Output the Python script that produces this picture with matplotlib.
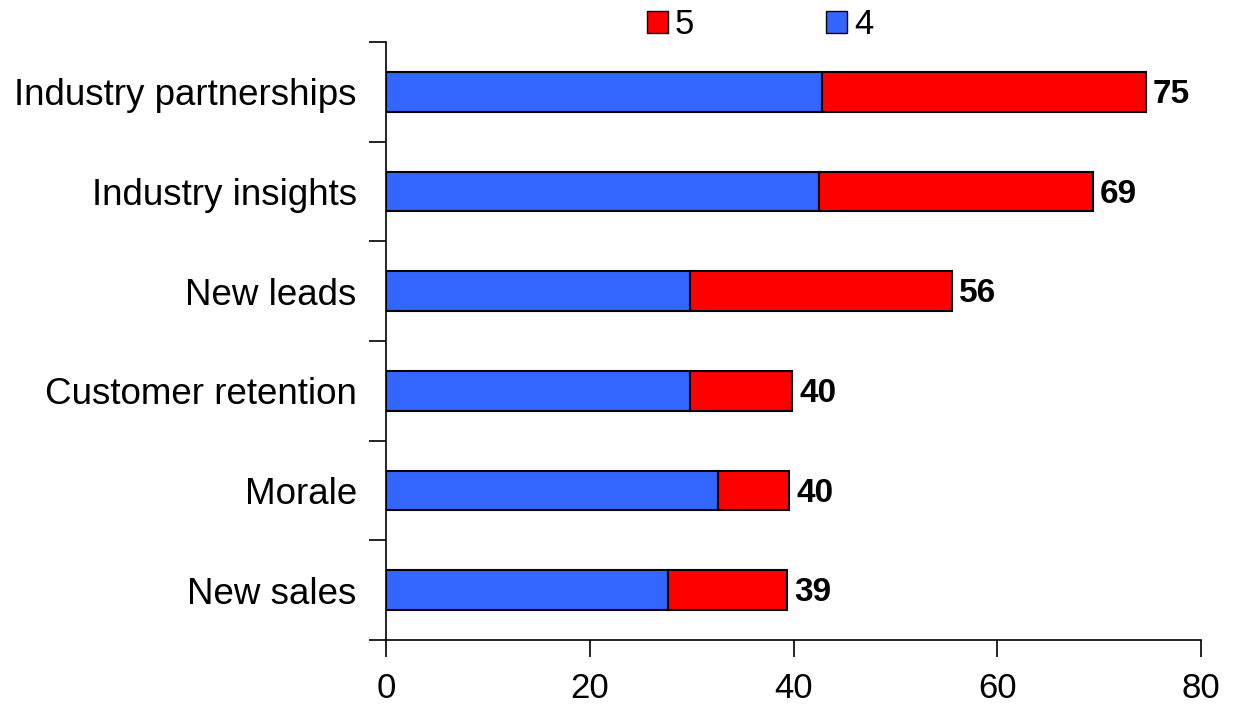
import matplotlib
matplotlib.use("Agg")
import matplotlib.pyplot as plt
from matplotlib.patches import Patch

plt.rcParams['font.family'] = ['Liberation Sans', 'DejaVu Sans']

categories = ["New sales", "Morale", "Customer retention", "New leads",
              "Industry insights", "Industry partnerships"]
score4 = [27.7, 32.6, 29.8, 29.8, 42.5, 42.8]
totals = [39.4, 39.6, 39.9, 55.6, 69.4, 74.6]
score5 = [t - a for t, a in zip(totals, score4)]
total_labels = ["39", "40", "40", "56", "69", "75"]
xticks = [0, 20, 40, 60, 80]

blue = "#3366FF"
red = "#FF0000"

fig = plt.figure(figsize=(12.34, 7.07), dpi=100)
ax = fig.add_axes([386/1234, 1-640/707, (1201-386)/1234, (640-42)/707])

y = list(range(len(categories)))
ax.barh(y, score4, height=0.4, color=blue, edgecolor="black", linewidth=1.5)
ax.barh(y, score5, left=score4, height=0.4, color=red, edgecolor="black", linewidth=1.5)

for yi, t, lab in zip(y, totals, total_labels):
    ax.annotate(lab, xy=(t, yi), xytext=(5, -2), textcoords="offset points",
                va="center", ha="left", fontsize=24, fontweight="bold")

ax.set_xlim(0, 80)
ax.set_ylim(-0.5, len(categories) - 0.5)
ax.set_xticks(xticks)
ax.set_xticklabels([str(v) for v in xticks], fontsize=25)
ax.set_yticks([i - 0.5 for i in range(len(categories) + 1)])
ax.set_yticklabels([])
ax.set_yticks(y, minor=True)
ax.set_yticklabels(categories, minor=True, fontsize=26.5)
ax.tick_params(axis="y", which="minor", length=0, pad=21)
ax.tick_params(axis="y", which="major", length=12, width=1.2, direction="out")
ax.tick_params(axis="x", which="major", length=12, width=1.2, direction="out", pad=11)
for s in ["top", "right"]:
    ax.spines[s].set_visible(False)
for s in ["left", "bottom"]:
    ax.spines[s].set_linewidth(1.2)

handles = [Patch(facecolor=red, edgecolor="black", label="5"),
           Patch(facecolor=blue, edgecolor="black", label="4")]
fig.legend(handles=handles, loc="center", bbox_to_anchor=(760/1234, 1-25/707),
           ncol=2, frameon=False, fontsize=25, handlelength=0.6, handleheight=0.6,
           handletextpad=0.2, columnspacing=3.8, borderpad=0)

fig.savefig("out.png", dpi=100)
